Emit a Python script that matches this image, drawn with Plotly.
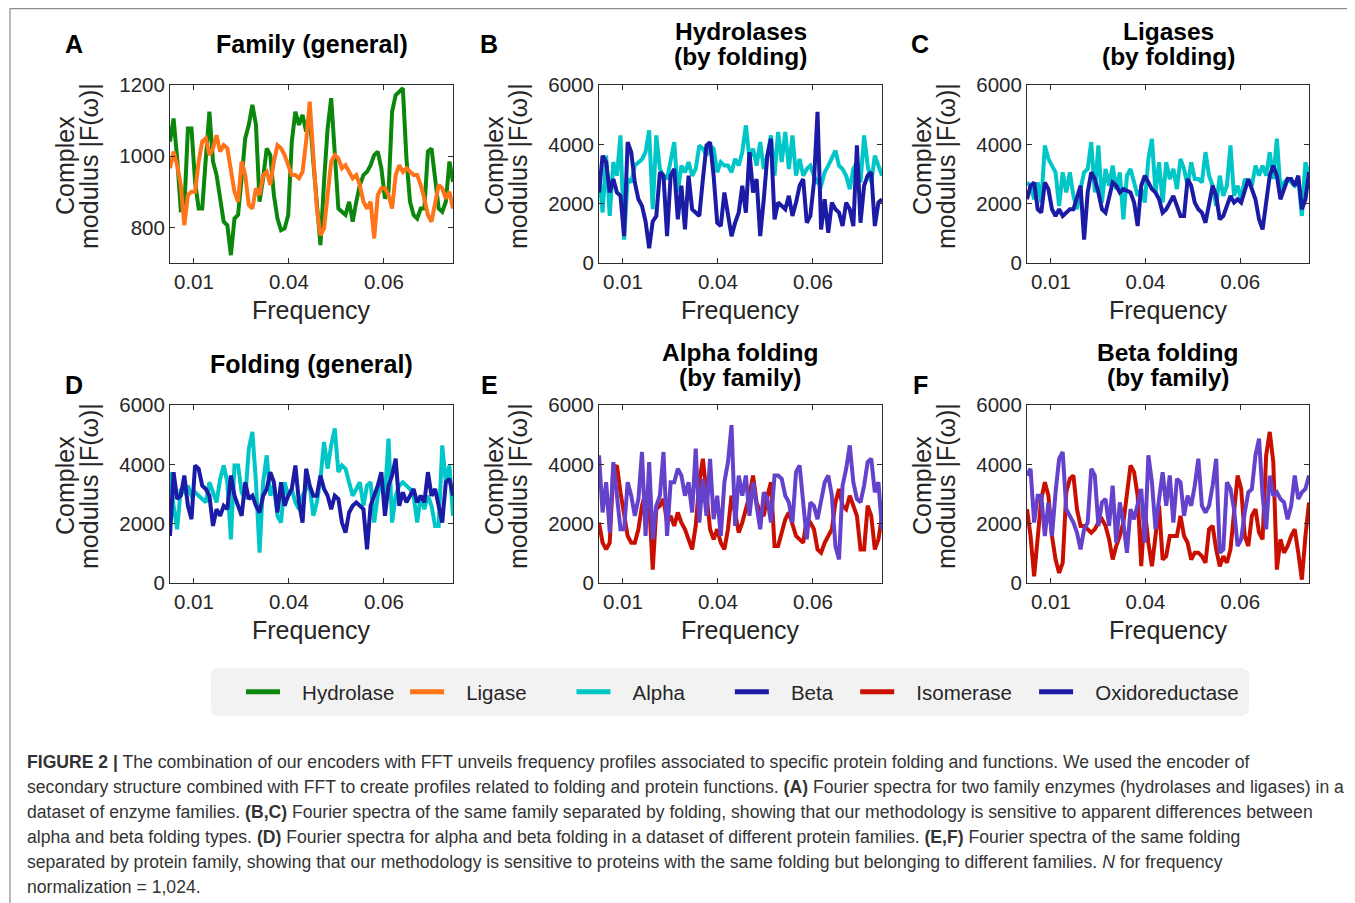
import numpy as np
import plotly.graph_objects as go

W, H = 1355, 903
OFF = 8  # browser body margin: page px = figure px + OFF

# ---------------- data ----------------
freq_range = [0.0062, 0.0807]
x_tickvals = [0.0125, 0.0375, 0.0625]
x_ticktext = ["0.01", "0.04", "0.06"]

hydrolase_A = [1041,1106,994,849,853,1078,1078,928,853,853,
               994,1125,985,947,881,816,806,722,825,835,
               938,1050,1088,1144,1088,872,938,1022,1003,891,
               825,792,797,835,1041,1125,1088,1116,1069,1116,
               985,853,750,928,1078,1163,1003,853,844,835,
               872,816,872,919,947,956,975,1003,1013,966,
               881,900,1125,1172,1181,1191,994,872,835,825,
               853,853,1013,1022,938,853,844,872,985,928]
ligase_A = [966,1013,975,919,806,891,900,900,985,1041,
            1050,1003,1022,1059,1013,1031,1022,966,900,872,
            985,947,863,853,910,891,947,956,919,985,
            1031,1022,1003,975,947,947,938,956,1041,1153,
            994,853,778,797,891,985,1003,994,966,975,
            956,938,947,919,872,853,872,769,891,910,
            910,891,853,947,975,956,966,956,947,947,
            919,881,835,816,872,919,910,881,900,853]

alpha_B = [3057,1700,3620,1585,3400,2943,4300,790,2830,2717,
           3283,3400,3500,3736,4470,1811,4300,3170,2943,2830,
           3400,4075,2377,3283,3057,3400,2943,3170,3963,3850,
           3620,3963,3850,3057,3400,3283,3283,3057,3510,3283,
           3736,4640,3510,3850,3283,4075,3170,3620,4300,2943,
           4415,3400,4415,3170,4300,2943,3510,2943,3170,3283,
           2943,2717,2604,3057,3283,3510,3790,3283,3170,2943,
           2490,3170,3400,2717,4300,3283,2717,3620,3283,2943]
beta_B = [2377,3620,3400,2377,2830,2377,2264,905,4075,3736,
          2717,2150,1924,1400,500,1400,1585,3057,2943,905,
          2943,3170,1471,2604,1132,2943,1811,1698,1585,2830,
          3963,4075,2943,1358,1245,2377,1698,905,1358,1698,
          2604,1698,3736,2377,2830,905,2150,3620,4188,1471,
          2037,1924,1811,2264,1585,2037,2604,2830,1358,1585,
          2717,5094,1132,2150,1019,2037,1811,1698,1245,2037,
          1811,1245,3963,1358,2604,2943,3057,1245,2037,2150]

alpha_C = [2717,2604,2150,2717,2037,3963,3510,3283,3057,1924,
           3057,2377,3057,2264,1811,2490,3057,3170,4075,2377,
           3963,2037,3170,2604,3283,2490,3057,1471,2943,3170,
           2717,2264,2490,2037,3510,4188,2377,3396,2037,3396,
           2830,3170,2490,3510,3170,2604,3396,2830,2830,2717,
           3736,2943,2604,1924,2943,2264,2604,3963,2264,2604,
           2150,2830,2717,2604,3283,2943,3283,2943,3736,2830,
           4188,2490,2717,2830,2717,2604,2830,1585,3396,2943]
beta_C = [2150,2604,2717,1811,1698,2717,2490,1811,1585,1811,
          1585,1698,1811,1811,2264,2604,790,2377,3057,2830,
          2377,1811,1698,2264,2717,2604,2377,2490,2434,2377,
          2037,1245,2604,2943,2717,2490,2377,2150,1698,1811,
          2037,2264,1924,1585,1585,2830,2604,2037,1811,1698,
          1358,2037,2604,2264,1471,1585,1924,2264,2037,2150,
          2037,2490,2830,2490,2150,1471,1132,2037,2943,3283,
          2943,2150,2490,2830,2830,2604,2943,1811,2150,3057]

alpha_D = [3736,2604,1811,3170,3057,3283,2943,3057,2943,2830,
           2717,3396,3057,2717,3510,3963,3396,1471,3963,3963,
           3057,2830,4528,5094,3396,1019,3396,4302,2943,3283,
           2264,2037,3396,2943,3170,2717,2490,2943,3170,3283,
           2264,2717,3510,4754,3850,4641,5207,3736,3963,3850,
           3396,2943,3170,3396,2604,3283,3396,2037,2943,3510,
           2943,4867,2037,2943,3283,3396,3283,3170,2943,2037,
           2943,2490,2943,2604,1924,1924,4641,3396,3963,2264]
beta_D = [1585,3736,2830,2943,3623,2604,2150,3963,3850,3283,
          3170,2943,1924,2490,2264,2604,2490,3623,2943,2604,
          2264,3396,2830,2943,2604,2377,2943,3170,3736,3396,
          2377,3396,2604,2943,3170,3963,2717,2037,3850,3283,
          2943,2943,3623,3170,2943,2490,2943,2830,2037,1698,
          2377,2604,2717,2604,2490,1132,2604,2943,3283,3736,
          2264,3283,3623,4188,2604,3057,2717,2943,3170,2717,
          2943,2717,3736,2943,3170,2604,2037,3396,3510,2943]

isomerase_E = [2037,1358,1132,1358,3850,3963,3057,2264,1585,1358,
               1358,1811,2604,3057,2717,453,2490,2604,2830,2037,
               2264,1924,2377,2037,1811,1471,1132,1924,3396,4188,
               3057,1811,1471,1811,1358,1132,1811,2943,2377,1698,
               2037,2490,2943,3623,2717,2377,2264,2943,3396,1245,
               1245,1698,2150,2377,1924,1585,1471,1358,2150,2037,
               1811,1132,1019,1358,1585,1811,2717,3170,2604,2490,
               2943,2604,2264,1132,1132,2604,2264,1132,1471,2264]
oxido_E = [4302,2377,3396,1698,4075,3057,1811,1811,3396,2943,
           2264,2830,4415,1585,4075,1471,2604,2943,4415,1585,
           3396,3396,3850,3623,2943,3396,2377,4528,2037,3510,
           2264,4188,2150,2943,1585,3396,4075,5320,1924,3623,
           2943,3623,2264,3396,2604,1811,3057,2830,2037,3623,
           3623,3510,2943,2717,2037,3736,3963,2604,1471,2717,
           2604,2150,2830,3396,3623,2943,1245,792,3283,3850,
           4641,3396,2830,2717,3283,4075,4188,3057,3396,1811]

isomerase_F = [2490,1585,226,1471,2830,3396,2943,1585,792,340,
               679,3057,3510,3623,2490,1924,1924,1811,1698,1811,
               2037,2150,1924,1471,792,1245,1585,2037,3057,3963,
               3736,2943,566,2490,1358,566,1585,2604,792,905,
               1585,1585,1585,2264,1585,1358,792,1019,1019,905,
               679,1811,1924,1132,566,905,679,1132,2490,3623,
               3170,1585,1245,2264,2490,1698,1471,4302,5094,4075,
               453,1471,1019,1245,1585,1811,1019,113,1585,2717]
oxido_F = [3623,3850,2037,2943,2943,1585,2717,1585,3057,4188,
           4415,2490,2264,2037,1698,1132,1811,2037,3850,3623,
           1924,2717,2830,1924,3283,1358,2717,2037,1019,2490,
           2150,2604,3170,1358,4302,3396,1811,2830,3736,2604,
           3623,2037,3510,3396,2264,2943,2604,3283,4188,2604,
           2377,2604,3283,4188,1019,1132,3396,3170,2490,1245,
           1471,2377,3057,3170,4302,4867,2943,1811,3623,2943,
           3057,2830,2717,2150,2604,3623,2830,3057,3170,3623]

legend_names = ["Hydrolase", "Ligase", "Alpha", "Beta", "Isomerase", "Oxidoreductase"]

panel_titles = [["Family (general)"], ["Hydrolases", "(by folding)"], ["Ligases", "(by folding)"],
                ["Folding (general)"], ["Alpha folding", "(by family)"], ["Beta folding", "(by family)"]]
panel_letters = ["A", "B", "C", "D", "E", "F"]
y_ranges = [[700, 1200]] + [[0, 6000]] * 5
y_ticks = [[800, 1000, 1200]] + [[0, 2000, 4000, 6000]] * 5
y_title_lines = ["Complex", "modulus |F(ω)|"]
x_title = "Frequency"

caption_lines = [
    "<b>FIGURE 2 |</b> The combination of our encoders with FFT unveils frequency profiles associated to specific protein folding and functions. We used the encoder of",
    "secondary structure combined with FFT to create profiles related to folding and protein functions. <b>(A)</b> Fourier spectra for two family enzymes (hydrolases and ligases) in a",
    "dataset of enzyme families. <b>(B,C)</b> Fourier spectra of the same family separated by folding, showing that our methodology is sensitive to apparent differences between",
    "alpha and beta folding types. <b>(D)</b> Fourier spectra for alpha and beta folding in a dataset of different protein families. <b>(E,F)</b> Fourier spectra of the same folding",
    "separated by protein family, showing that our methodology is sensitive to proteins with the same folding but belonging to different families. <i>N</i> for frequency",
    "normalization = 1,024.",
]

# ---------------- styles ----------------
GREEN = "#0b870b"
ORANGE = "#ff7319"
CYAN = "#00c6c8"
DBLUE = "#1b1ba6"
RED = "#c91000"
PURPLE = "#6542cc"
FONT = "Liberation Sans, Arial, sans-serif"
TXT = "#262626"

panels = [
    [(hydrolase_A, GREEN), (ligase_A, ORANGE)],
    [(alpha_B, CYAN), (beta_B, DBLUE)],
    [(alpha_C, CYAN), (beta_C, DBLUE)],
    [(alpha_D, CYAN), (beta_D, DBLUE)],
    [(isomerase_E, RED), (oxido_E, PURPLE)],
    [(isomerase_F, RED), (oxido_F, PURPLE)],
]
legend_colors = [GREEN, ORANGE, CYAN, DBLUE, RED, DBLUE]
# non-breaking padding (before, after) so legend entries sit like the reference
legend_pad = [(3, 1), (3, 7), (3, 7), (3, 3), (3, 3), (3, 0)]


def PX(x):
    return (x - OFF) / W


def PY(y):
    return 1 - (y - OFF) / H


# page-pixel geometry of the reference
cols_px = [(170, 453), (599, 882), (1027, 1309)]
rows_px = [(85, 263), (405, 583)]

fig = go.Figure()
layout = dict(
    width=W, height=H, margin=dict(l=0, r=0, t=0, b=0, pad=0, autoexpand=False),
    paper_bgcolor="white", plot_bgcolor="white",
    font=dict(family=FONT, color=TXT),
    showlegend=True,
)

annotations = []
shapes = []


def ann(text, x, y, size, color=TXT, angle=0, xanchor="center"):
    annotations.append(dict(text=text, x=PX(x), y=PY(y), xref="paper", yref="paper",
                            showarrow=False, textangle=angle, xanchor=xanchor,
                            yanchor="middle", align="left",
                            font=dict(size=size, color=color, family=FONT)))


for i, series in enumerate(panels):
    r, c = divmod(i, 3)
    x0, x1 = cols_px[c]
    y0, y1 = rows_px[r]
    n = i + 1
    xa = "x" if n == 1 else f"x{n}"
    ya = "y" if n == 1 else f"y{n}"
    for vals, col in series:
        xs = np.linspace(freq_range[0], freq_range[1], len(vals))
        fig.add_trace(go.Scatter(x=xs, y=vals, mode="lines",
                                 line=dict(color=col, width=4),
                                 xaxis=xa, yaxis=ya, showlegend=False,
                                 hoverinfo="skip"))
    axis_common = dict(showline=True, linecolor="#2b2b2b", linewidth=1, mirror="ticks",
                       ticks="inside", ticklen=5, tickcolor="#2b2b2b", showgrid=False,
                       zeroline=False, tickfont=dict(size=20.5, color=TXT, family=FONT))
    layout["xaxis" if n == 1 else f"xaxis{n}"] = dict(
        axis_common, domain=[PX(x0), PX(x1)], range=freq_range,
        tickvals=x_tickvals, ticktext=x_ticktext, anchor=ya)
    layout["yaxis" if n == 1 else f"yaxis{n}"] = dict(
        axis_common, domain=[PY(y1), PY(y0)], range=y_ranges[i],
        tickvals=y_ticks[i], anchor=xa)

    tcx = (x0 + x1) / 2
    # panel titles
    lines = panel_titles[i]
    if len(lines) == 1:
        ann("<b>" + lines[0] + "</b>", tcx, y0 - 41, 25, "black")
    else:
        ann("<b>" + lines[0] + "</b>", tcx, y0 - 53, 24.5, "black")
        ann("<b>" + lines[1] + "</b>", tcx, y0 - 28, 24.5, "black")
    # panel letters
    ann("<b>" + panel_letters[i] + "</b>", [74, 489, 920][c], [44, 385][r], 25, "black")
    # y axis title (two lines)
    ycen = (y0 + y1) / 2 - 8
    ann(y_title_lines[0], x0 - 105, ycen, 25, angle=-90)
    ann(y_title_lines[1], x0 - 81, ycen, 25, angle=-90)
    # x axis title
    ann(x_title, tcx, y1 + 47, 25)

# legend-only traces
for name, col, (pb, pa) in zip(legend_names, legend_colors, legend_pad):
    fig.add_trace(go.Scatter(x=[None], y=[None], mode="lines",
                             name="\u00a0" * pb + name + "\u00a0" * pa,
                             line=dict(color=col, width=5), showlegend=True))

layout["legend"] = dict(orientation="h", x=PX(241), y=PY(692), xanchor="left",
                        yanchor="middle", bgcolor="rgba(0,0,0,0)",
                        font=dict(size=20.5, color=TXT, family=FONT),
                        itemwidth=34, itemclick=False, itemdoubleclick=False)

# legend box (rounded rectangle)
bx0, by0, bx1, by1, rr = 211, 668, 1249, 716, 8
pts = [("M", bx0 + rr, by0), ("L", bx1 - rr, by0), ("Q", bx1, by0), (None, bx1, by0 + rr),
       ("L", bx1, by1 - rr), ("Q", bx1, by1), (None, bx1 - rr, by1), ("L", bx0 + rr, by1),
       ("Q", bx0, by1), (None, bx0, by1 - rr), ("L", bx0, by0 + rr), ("Q", bx0, by0),
       (None, bx0 + rr, by0)]
path = " ".join((cmd + " " if cmd else "") + f"{PX(x)},{PY(y)}" for cmd, x, y in pts) + " Z"
shapes.append(dict(type="path", xref="paper", yref="paper", path=path,
                   fillcolor="#f2f2f2", line=dict(width=0), layer="below"))

# outer frame
shapes.append(dict(type="path", xref="paper", yref="paper",
                   path=f"M {PX(10)},{PY(920)} L {PX(10)},{PY(8.7)} L {PX(1352)},{PY(8.7)} L {PX(1352)},{PY(920)}",
                   line=dict(color="#8c8c8c", width=1.2)))

# caption
for k, line in enumerate(caption_lines):
    ann(line, 25, 762 + 25 * k, 17.6, "#333333", xanchor="left")

layout["annotations"] = annotations
layout["shapes"] = shapes
fig.update_layout(**layout)
fig.write_html("out.html")
